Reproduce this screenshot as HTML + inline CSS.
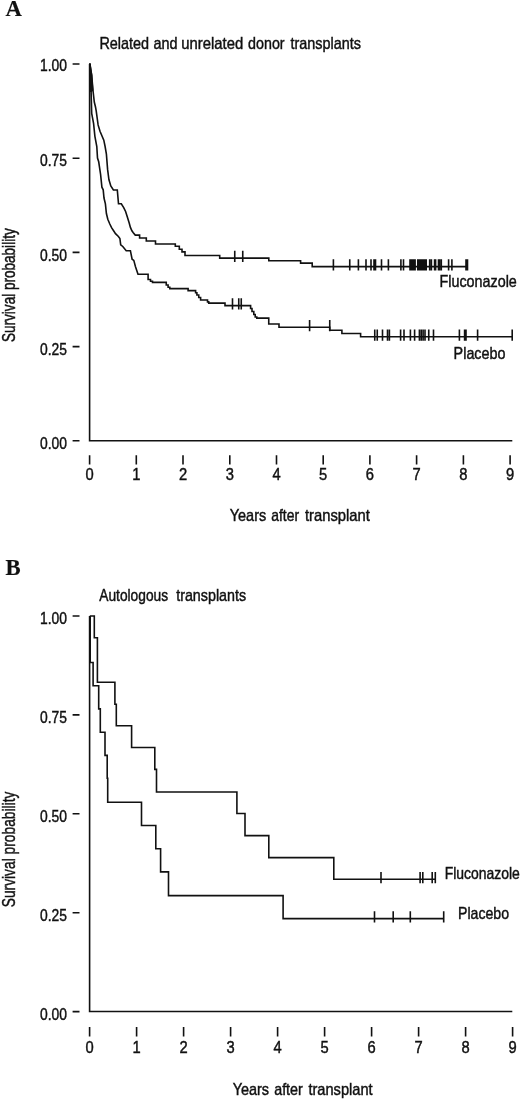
<!DOCTYPE html>
<html><head><meta charset="utf-8"><title>Survival curves</title>
<style>
html,body{margin:0;padding:0;background:#fff;}
svg{display:block;}
text{font-family:"Liberation Sans",Arial,sans-serif;font-size:17px;fill:#111;stroke:#111;stroke-width:0.45px;}
text.pl{font-family:"Liberation Serif","Times New Roman",serif;font-weight:bold;font-size:22.7px;stroke-width:0.2px;}
.ln{fill:none;stroke:#111;stroke-width:1.6;stroke-linejoin:miter;stroke-linecap:butt;}
</style></head>
<body>
<svg width="520" height="1100" viewBox="0 0 520 1100">
<rect width="520" height="1100" fill="#fff"/>
<path d="M89.6 64V440.8H512.3" class="ln"/>
<path d="M89.6 455.3V464.6M136.3 455.3V464.6M183.0 455.3V464.6M229.8 455.3V464.6M276.5 455.3V464.6M323.2 455.3V464.6M369.9 455.3V464.6M416.6 455.3V464.6M463.4 455.3V464.6M510.1 455.3V464.6M72.6 64.0H79.5M72.6 158.2H79.5M72.6 252.4H79.5M72.6 346.6H79.5M72.6 440.8H79.5" class="ln"/>
<path d="M 89.8 63.5 L 91.7 75.3 L 93 90.5 L 94.3 102 L 95.5 107 L 96.2 110.9 L 98.1 124.9 L 100 131.2 L 103.8 140.2
L 105.1 146.5 L 106.4 154.1 L 107.6 169.4 L 108.9 179.6 L 110.8 186 L 113.4 190
H 117.3 L 118.5 203.8 H 121.3 L 123.7 207.7 L 125.6 211.5 L 127.1 216.3 L 129.2 223.1 L 130.4 227.4 L 131.9 230.8
L 133.3 232.7 L 135.25 235.1 H 139.6 V 238 H 146.3 V 241 H 155.5 V 244 H 175.3 V 246.2 H 179.3 V 249.2
H 182 V 251.9 H 185 V 255.5 H 219.7 V 258.1 H 268.8 V 260.7 H 300.6 V 263.1 H 312.2 V 266.6 H 467.5" class="ln"/>
<path d="M 89.8 63.5 L 91.1 91.8 L 91.7 113.4 L 93.6 123.6 L 94.9 136.3 L 96.8 146.5 L 97.5 158 L 98.7 161.8
L 100.6 174.5 L 101.9 187.2 L 103.2 189.8 L 104 198 L 105.4 203.8 L 106.4 213.5 L 107.8 219.2 L 109.8 224 L 111.7 227.9
L 113.6 230.8 L 115.5 233.7 L 118.4 236.5 L 119.9 238.5 L 120.7 244.8 L 122.8 246.5 L 126.2 250.7 H 130.4
L 132.1 259.2 L 133.8 260.4 L 135.5 266.8 L 138 274.2 H 148.1 V 279.5 H 150.5 V 281.2 H 152.5 V 282.4 H 166.25
V 285 H 168.1 V 287.2 H 169.8 V 288.6 H 188.1 V 290.6 H 195.6 V 292.8 H 196.9 V 295 H 198.75 V 297.5 H 200.6 V 300
H 207.5 V 301.9 H 208.75 V 303.1 H 225 V 305.6 H 250.6 V 308.5 H 252 V 311.5 H 253.8 V 314.5 H 255.2 V 317 H 256.8 V 318.1
H 268.75 V 324 H 279 V 327.2 H 329.75 V 330.3 H 341.9 V 333.5 H 360.6 V 336.8 H 512.2" class="ln"/>
<path d="M234.75 250.8V262.1M242.75 250.8V262.1M333.4 259.3V270.6M349.75 259.3V270.6M358.4 259.3V270.6M366 259.3V270.6M371 259.3V270.6M374 259.3V270.6M375.5 259.3V270.6M381.5 259.3V270.6M388.4 259.3V270.6M400.9 259.3V270.6M403.5 259.3V270.6M410 259.3V270.6M411.2 259.3V270.6M412.5 259.3V270.6M413.8 259.3V270.6M415.1 259.3V270.6M417.8 259.3V270.6M419 259.3V270.6M420.2 259.3V270.6M421.4 259.3V270.6M422.6 259.3V270.6M423.8 259.3V270.6M425 259.3V270.6M426.2 259.3V270.6M429.7 259.3V270.6M431.4 259.3V270.6M434.6 259.3V270.6M435.6 259.3V270.6M438.5 259.3V270.6M439.6 259.3V270.6M441.3 259.3V270.6M448.6 259.3V270.6M451.9 259.3V270.6M466 259.3V270.6M467.5 259.3V270.6M232.5 298.3V309.6M238.75 298.3V309.6M241.25 298.3V309.6M309.6 319.9V331.2M329.75 319.9V331.2M374.75 329.5V340.8M377.25 329.5V340.8M382.5 329.5V340.8M387.5 329.5V340.8M389.4 329.5V340.8M400.6 329.5V340.8M404 329.5V340.8M410.4 329.5V340.8M414.6 329.5V340.8M419.4 329.5V340.8M421.25 329.5V340.8M423.1 329.5V340.8M425 329.5V340.8M428.75 329.5V340.8M433.5 329.5V340.8M459.4 329.5V340.8M464.6 329.5V340.8M466 329.5V340.8M477.6 329.5V340.8M512.2 329.5V340.8" class="ln"/>
<text x="67" y="71.0" text-anchor="end" textLength="27" lengthAdjust="spacingAndGlyphs">1.00</text>
<text x="67" y="165.7" text-anchor="end" textLength="27" lengthAdjust="spacingAndGlyphs">0.75</text>
<text x="67" y="260.7" text-anchor="end" textLength="27" lengthAdjust="spacingAndGlyphs">0.50</text>
<text x="67" y="354.7" text-anchor="end" textLength="27" lengthAdjust="spacingAndGlyphs">0.25</text>
<text x="67" y="448.9" text-anchor="end" textLength="27" lengthAdjust="spacingAndGlyphs">0.00</text>
<text x="89.6" y="479.8" text-anchor="middle" textLength="8.2" lengthAdjust="spacingAndGlyphs">0</text>
<text x="136.3" y="479.8" text-anchor="middle" textLength="8.2" lengthAdjust="spacingAndGlyphs">1</text>
<text x="183.0" y="479.8" text-anchor="middle" textLength="8.2" lengthAdjust="spacingAndGlyphs">2</text>
<text x="229.8" y="479.8" text-anchor="middle" textLength="8.2" lengthAdjust="spacingAndGlyphs">3</text>
<text x="276.5" y="479.8" text-anchor="middle" textLength="8.2" lengthAdjust="spacingAndGlyphs">4</text>
<text x="323.2" y="479.8" text-anchor="middle" textLength="8.2" lengthAdjust="spacingAndGlyphs">5</text>
<text x="369.9" y="479.8" text-anchor="middle" textLength="8.2" lengthAdjust="spacingAndGlyphs">6</text>
<text x="416.6" y="479.8" text-anchor="middle" textLength="8.2" lengthAdjust="spacingAndGlyphs">7</text>
<text x="463.4" y="479.8" text-anchor="middle" textLength="8.2" lengthAdjust="spacingAndGlyphs">8</text>
<text x="510.1" y="479.8" text-anchor="middle" textLength="8.2" lengthAdjust="spacingAndGlyphs">9</text>
<text x="99.42" y="48.8" textLength="49.71" lengthAdjust="spacingAndGlyphs">Related</text>
<text x="153.59" y="48.8" textLength="24.04" lengthAdjust="spacingAndGlyphs">and</text>
<text x="181.34" y="48.8" textLength="61.92" lengthAdjust="spacingAndGlyphs">unrelated</text>
<text x="248.10" y="48.8" textLength="36.54" lengthAdjust="spacingAndGlyphs">donor</text>
<text x="290.48" y="48.8" textLength="70.54" lengthAdjust="spacingAndGlyphs">transplants</text>
<text x="229.69" y="520.6" textLength="36.51" lengthAdjust="spacingAndGlyphs">Years</text>
<text x="271.21" y="520.6" textLength="27.82" lengthAdjust="spacingAndGlyphs">after</text>
<text x="304.98" y="520.6" textLength="64.93" lengthAdjust="spacingAndGlyphs">transplant</text>
<text transform="translate(15.3 342) rotate(-90)" x="0" y="0" style="font-size:17.6px" textLength="113.7" lengthAdjust="spacingAndGlyphs">Survival probability</text>
<text x="439.52" y="286.8" textLength="77.31" lengthAdjust="spacingAndGlyphs">Fluconazole</text>
<text x="453.62" y="358.8" textLength="51.88" lengthAdjust="spacingAndGlyphs">Placebo</text>
<text x="5.6" y="16.0" class="pl">A</text>
<path d="M89 63.5L90.6 63.5L92.4 75L93.4 90.5L91.6 92L89 92Z" fill="#111"/>
<path d="M89.6 616V1011.5H512.3" class="ln"/>
<path d="M89.6 1027V1036.6M136.6 1027V1036.6M183.6 1027V1036.6M230.6 1027V1036.6M277.6 1027V1036.6M324.6 1027V1036.6M371.6 1027V1036.6M418.6 1027V1036.6M465.6 1027V1036.6M512.6 1027V1036.6M72.6 616.0H79.5M72.6 714.9H79.5M72.6 813.8H79.5M72.6 912.7H79.5M72.6 1011.6H79.5" class="ln"/>
<path d="M 89.8 616 H 94.3 V 637.7 H 97.4 V 682.2 H 114.9 V 704.2 H 116.3 V 725.7 H 131.6 V 747.5 H 154.8 V 769.4
H 156.5 V 792 H 236.9 V 813.5 H 245 V 835.6 H 268.8 V 857.6 H 333.8 V 879.2 H 436" class="ln"/>
<path d="M 90.2 616 V 662.5 H 93.1 V 685.8 H 98.7 V 708.9 H 100.3 V 732.3 H 105 V 755.4 H 107.2 V 778.2 H 107.7 V 802.3
H 141.5 V 825.5 H 155.8 V 848.75 H 160.6 V 871.9 H 168.5 V 895.6 H 283.1 V 918.6 H 443.7" class="ln"/>
<path d="M381 871.9V883.2M420.1 871.9V883.2M422.8 871.9V883.2M432.2 871.9V883.2M435.3 871.9V883.2M374.5 911.3V922.6M393.2 911.3V922.6M410.3 911.3V922.6M443.7 911.3V922.6" class="ln"/>
<text x="67" y="624.1" text-anchor="end" textLength="27" lengthAdjust="spacingAndGlyphs">1.00</text>
<text x="67" y="723.3" text-anchor="end" textLength="27" lengthAdjust="spacingAndGlyphs">0.75</text>
<text x="67" y="822.1" text-anchor="end" textLength="27" lengthAdjust="spacingAndGlyphs">0.50</text>
<text x="67" y="921.1" text-anchor="end" textLength="27" lengthAdjust="spacingAndGlyphs">0.25</text>
<text x="67" y="1019.9" text-anchor="end" textLength="27" lengthAdjust="spacingAndGlyphs">0.00</text>
<text x="89.6" y="1052.5" text-anchor="middle" textLength="8.2" lengthAdjust="spacingAndGlyphs">0</text>
<text x="136.6" y="1052.5" text-anchor="middle" textLength="8.2" lengthAdjust="spacingAndGlyphs">1</text>
<text x="183.6" y="1052.5" text-anchor="middle" textLength="8.2" lengthAdjust="spacingAndGlyphs">2</text>
<text x="230.6" y="1052.5" text-anchor="middle" textLength="8.2" lengthAdjust="spacingAndGlyphs">3</text>
<text x="277.6" y="1052.5" text-anchor="middle" textLength="8.2" lengthAdjust="spacingAndGlyphs">4</text>
<text x="324.6" y="1052.5" text-anchor="middle" textLength="8.2" lengthAdjust="spacingAndGlyphs">5</text>
<text x="371.6" y="1052.5" text-anchor="middle" textLength="8.2" lengthAdjust="spacingAndGlyphs">6</text>
<text x="418.6" y="1052.5" text-anchor="middle" textLength="8.2" lengthAdjust="spacingAndGlyphs">7</text>
<text x="465.6" y="1052.5" text-anchor="middle" textLength="8.2" lengthAdjust="spacingAndGlyphs">8</text>
<text x="512.6" y="1052.5" text-anchor="middle" textLength="8.2" lengthAdjust="spacingAndGlyphs">9</text>
<text x="99.27" y="600.8" textLength="68.82" lengthAdjust="spacingAndGlyphs">Autologous</text>
<text x="176.18" y="600.8" textLength="69.93" lengthAdjust="spacingAndGlyphs">transplants</text>
<text x="232.69" y="1095.2" textLength="36.41" lengthAdjust="spacingAndGlyphs">Years</text>
<text x="274.19" y="1095.2" textLength="28.65" lengthAdjust="spacingAndGlyphs">after</text>
<text x="308.38" y="1095.2" textLength="64.23" lengthAdjust="spacingAndGlyphs">transplant</text>
<text transform="translate(15.3 907.3) rotate(-90)" x="0" y="0" style="font-size:17.6px" textLength="115.7" lengthAdjust="spacingAndGlyphs">Survival probability</text>
<text x="444.66" y="878.8" textLength="75.16" lengthAdjust="spacingAndGlyphs">Fluconazole</text>
<text x="458.04" y="918.6" textLength="51.05" lengthAdjust="spacingAndGlyphs">Placebo</text>
<text x="5.6" y="575.0" class="pl">B</text>
</svg>
</body></html>
